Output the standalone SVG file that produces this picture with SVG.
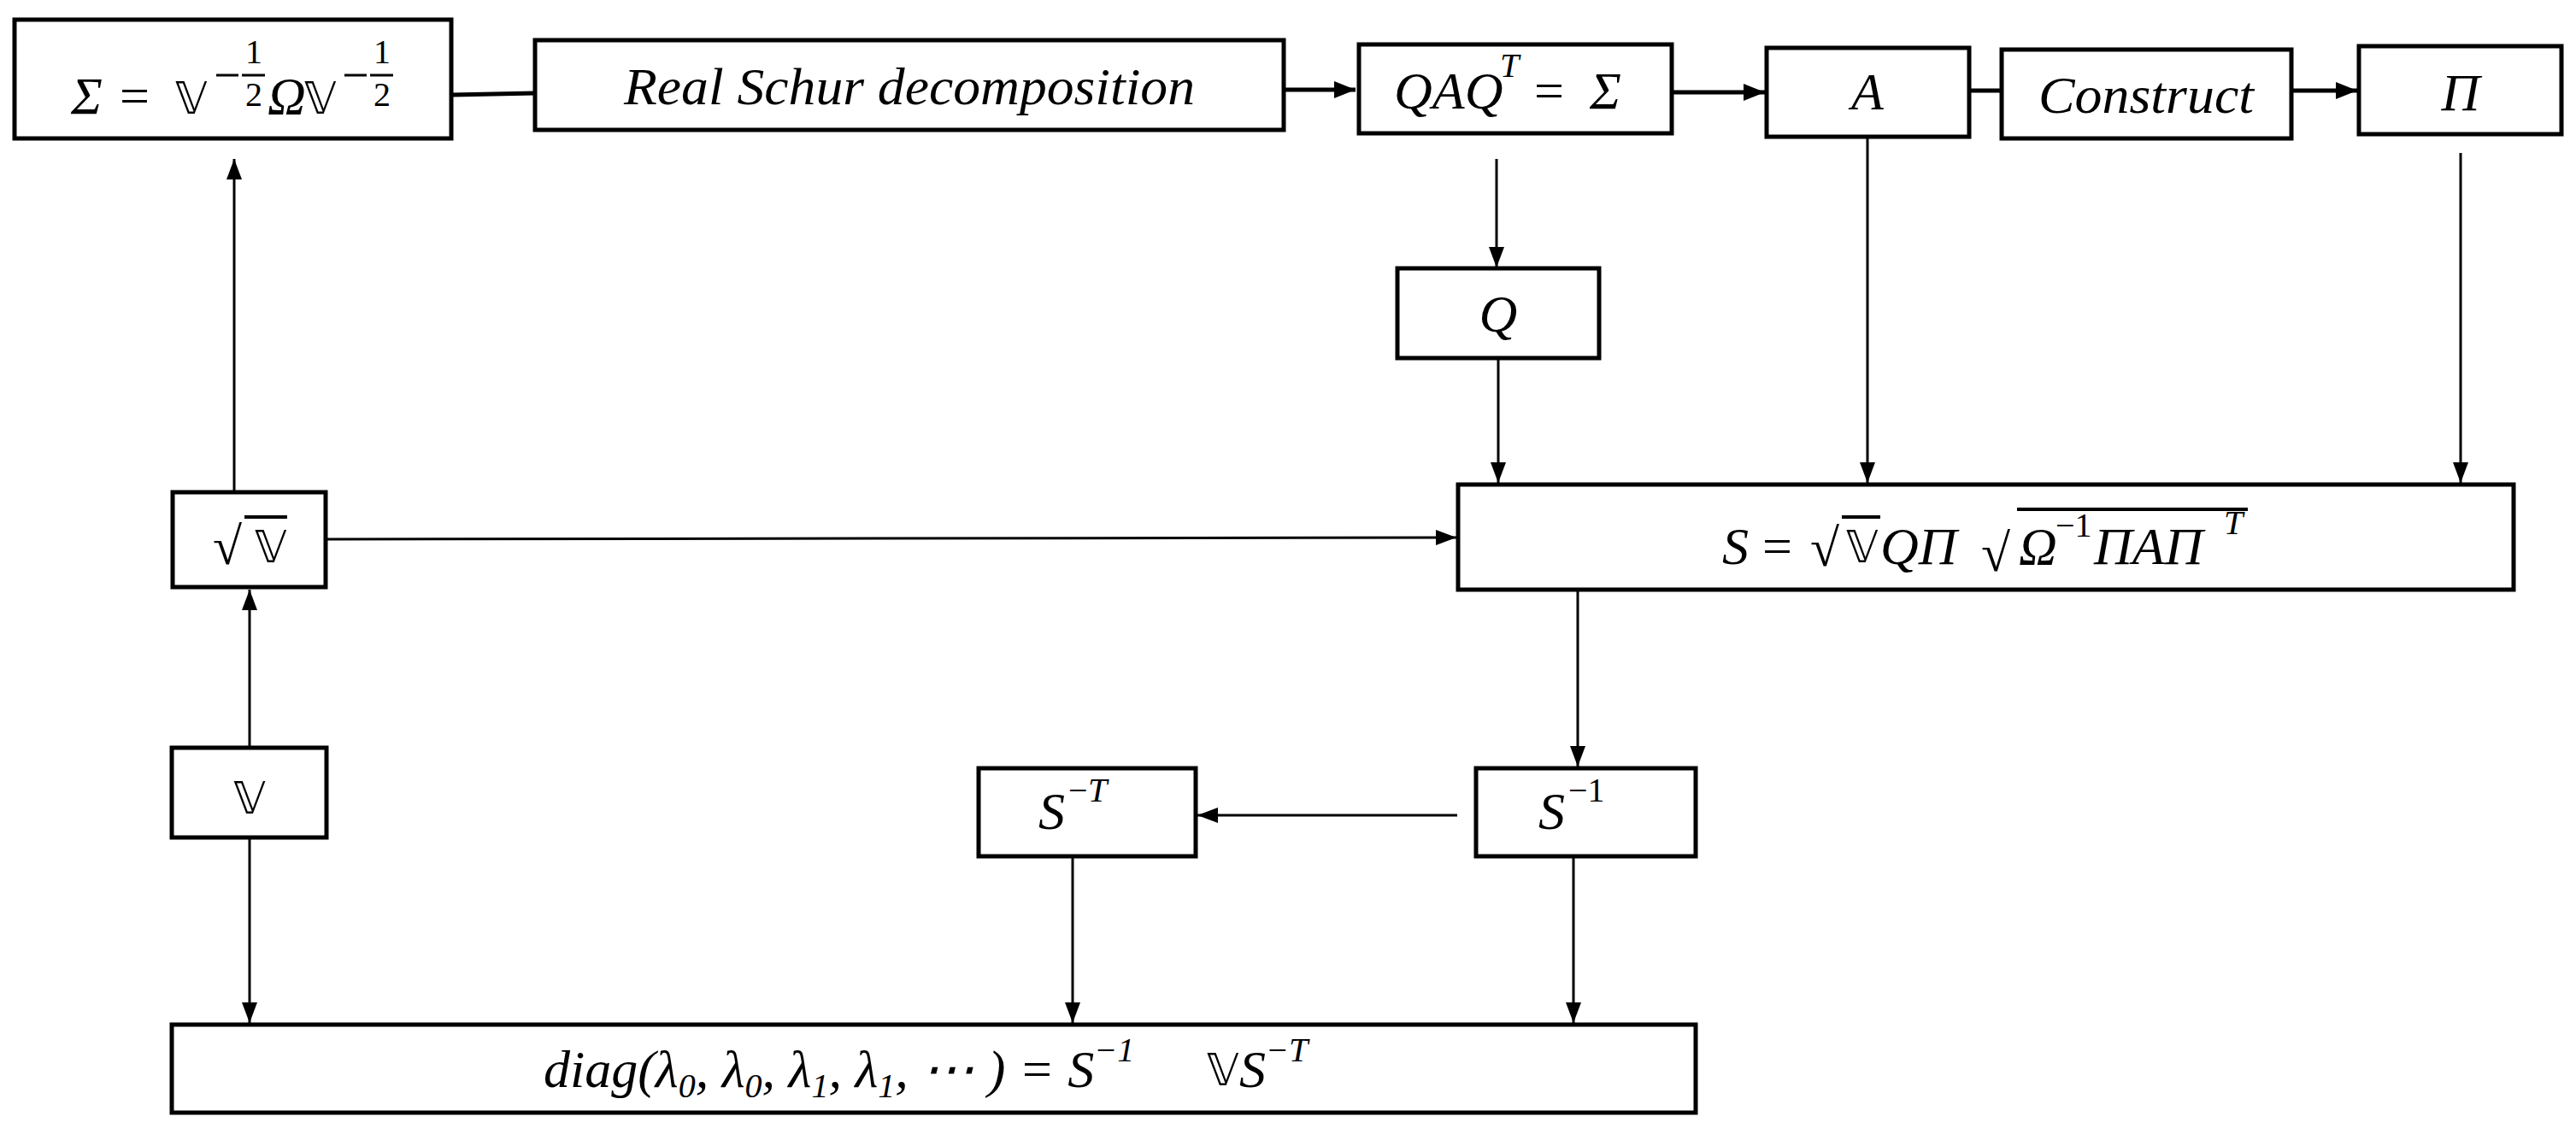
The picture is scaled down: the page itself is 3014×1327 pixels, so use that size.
<svg xmlns="http://www.w3.org/2000/svg" width="3014" height="1327" viewBox="0 0 3014 1327">
<style>
.box{fill:#fff;stroke:#000;stroke-width:5}
.t{font-family:"Liberation Serif","DejaVu Serif",serif;font-style:italic;font-size:62px;fill:#000}
.u{font-family:"Liberation Serif","DejaVu Serif",serif;font-size:62px;fill:#000}
.bb{font-family:"DejaVu Sans",sans-serif;font-size:52px;fill:#000}
.s{font-size:40px}
.c{stroke:#000;stroke-width:3;fill:none}
.c2{stroke:#000;stroke-width:5;fill:none}
</style>
<defs>
<marker id="ah" markerWidth="8" markerHeight="6" refX="8" refY="3" orient="auto" markerUnits="strokeWidth"><path d="M0,0 L8,3 L0,6 Z" fill="#000"/></marker>
<marker id="ah2" markerWidth="5" markerHeight="4" refX="5" refY="2" orient="auto" markerUnits="strokeWidth"><path d="M0,0 L5,2 L0,4 Z" fill="#000"/></marker>
</defs>
<g id="connectors">
<line class="c2" x1="529" y1="111" x2="626" y2="109"/>
<line class="c2" x1="1502" y1="105" x2="1586" y2="105" marker-end="url(#ah2)"/>
<line class="c2" x1="1956" y1="108" x2="2065" y2="108" marker-end="url(#ah2)"/>
<line class="c2" x1="2304" y1="106" x2="2342" y2="106"/>
<line class="c2" x1="2681" y1="106" x2="2758" y2="106" marker-end="url(#ah2)"/>
<line class="c" x1="1751" y1="186" x2="1751" y2="313" marker-end="url(#ah)"/>
<line class="c" x1="1753" y1="420" x2="1753" y2="565" marker-end="url(#ah)"/>
<line class="c" x1="2185" y1="161" x2="2185" y2="565" marker-end="url(#ah)"/>
<line class="c" x1="2879" y1="179" x2="2879" y2="565" marker-end="url(#ah)"/>
<line class="c" x1="274" y1="574" x2="274" y2="186" marker-end="url(#ah)"/>
<line class="c" x1="381" y1="631" x2="1704" y2="629" marker-end="url(#ah)"/>
<line class="c" x1="292" y1="875" x2="292" y2="690" marker-end="url(#ah)"/>
<line class="c" x1="292" y1="980" x2="292" y2="1197" marker-end="url(#ah)"/>
<line class="c" x1="1846" y1="690" x2="1846" y2="897" marker-end="url(#ah)"/>
<line class="c" x1="1705" y1="954" x2="1401" y2="954" marker-end="url(#ah)"/>
<line class="c" x1="1255" y1="995" x2="1255" y2="1197" marker-end="url(#ah)"/>
<line class="c" x1="1841" y1="995" x2="1841" y2="1197" marker-end="url(#ah)"/>
</g>
<g id="n-sigma">
<rect class="box" x="17" y="23" width="511" height="139"/>
<text class="t" x="83" y="133">Σ</text>
<text class="u" x="140" y="133">=</text>
<text class="bb" x="205" y="133">𝕍</text>
<line x1="253" y1="88" x2="279" y2="88" stroke="#000" stroke-width="3"/>
<line x1="283" y1="88" x2="310" y2="88" stroke="#000" stroke-width="3"/>
<text class="u s" x="297" y="74" text-anchor="middle">1</text>
<text class="u s" x="297" y="124" text-anchor="middle">2</text>
<text class="t" x="313" y="133">Ω</text>
<text class="bb" x="356" y="133">𝕍</text>
<line x1="403" y1="88" x2="429" y2="88" stroke="#000" stroke-width="3"/>
<line x1="433" y1="88" x2="460" y2="88" stroke="#000" stroke-width="3"/>
<text class="u s" x="447" y="74" text-anchor="middle">1</text>
<text class="u s" x="447" y="124" text-anchor="middle">2</text>
</g>
<g id="n-schur">
<rect class="box" x="626" y="47" width="876" height="105"/>
<text class="t" x="1064" y="122" text-anchor="middle" textLength="668" lengthAdjust="spacingAndGlyphs">Real Schur decomposition</text>
</g>
<g id="n-qaq">
<rect class="box" x="1590" y="52" width="366" height="104"/>
<text class="t" x="1631" y="127">QAQ</text>
<text class="t s" x="1755" y="90">T</text>
<text class="u" x="1795" y="127">=</text>
<text class="t" x="1860" y="127">Σ</text>
</g>
<g id="n-a">
<rect class="box" x="2067" y="56" width="237" height="104"/>
<text class="t" x="2185" y="128" text-anchor="middle">A</text>
</g>
<g id="n-construct">
<rect class="box" x="2342" y="58" width="339" height="104"/>
<text class="t" x="2511" y="132" text-anchor="middle" textLength="252" lengthAdjust="spacingAndGlyphs">Construct</text>
</g>
<g id="n-pi">
<rect class="box" x="2760" y="54" width="237" height="103"/>
<text class="t" x="2879" y="129" text-anchor="middle">Π</text>
</g>
<g id="n-q">
<rect class="box" x="1635" y="314" width="236" height="105"/>
<text class="t" x="1753" y="388" text-anchor="middle">Q</text>
</g>
<g id="n-sqrtv">
<rect class="box" x="202" y="576" width="179" height="111"/>
<text class="u" x="249" y="660">√</text>
<line x1="286" y1="605" x2="336" y2="605" stroke="#000" stroke-width="4"/>
<text class="bb" x="298" y="658">𝕍</text>
</g>
<g id="n-s">
<rect class="box" x="1706" y="567" width="1235" height="123"/>
<text class="t" x="2015" y="660">S</text>
<text class="u" x="2062" y="660">=</text>
<text class="u" x="2118" y="662">√</text>
<line x1="2155" y1="605" x2="2200" y2="605" stroke="#000" stroke-width="4"/>
<text class="bb" x="2160" y="658">𝕍</text>
<text class="t" x="2200" y="660">QΠ</text>
<text class="u" x="2318" y="668" font-size="72">√</text>
<line x1="2360" y1="596" x2="2630" y2="596" stroke="#000" stroke-width="4"/>
<text class="t" x="2362" y="660">Ω</text>
<text class="u s" x="2405" y="628">−1</text>
<text class="t" x="2450" y="660">ΠAΠ</text>
<text class="t s" x="2602" y="625">T</text>
</g>
<g id="n-v">
<rect class="box" x="201" y="875" width="181" height="105"/>
<text class="bb" x="292" y="952" text-anchor="middle">𝕍</text>
</g>
<g id="n-st">
<rect class="box" x="1145" y="899" width="254" height="103"/>
<text class="t" x="1215" y="970">S</text>
<text class="u s" x="1250" y="938">−</text>
<text class="t s" x="1273" y="938">T</text>
</g>
<g id="n-s1">
<rect class="box" x="1727" y="899" width="257" height="103"/>
<text class="t" x="1800" y="970">S</text>
<text class="u s" x="1835" y="938">−1</text>
</g>
<g id="n-diag">
<rect class="box" x="201" y="1199" width="1783" height="103"/>
<text class="t" x="636" y="1272">diag(λ<tspan class="s" dy="12">0</tspan><tspan dy="-12">, λ</tspan><tspan class="s" dy="12">0</tspan><tspan dy="-12">, λ</tspan><tspan class="s" dy="12">1</tspan><tspan dy="-12">, λ</tspan><tspan class="s" dy="12">1</tspan><tspan dy="-12">, ⋯ ) = S</tspan><tspan class="s" dy="-30">−1</tspan></text>
<text class="bb" x="1412" y="1270">𝕍</text>
<text class="t" x="1450" y="1272">S<tspan class="s" dy="-30">−T</tspan></text>
</g>
</svg>
